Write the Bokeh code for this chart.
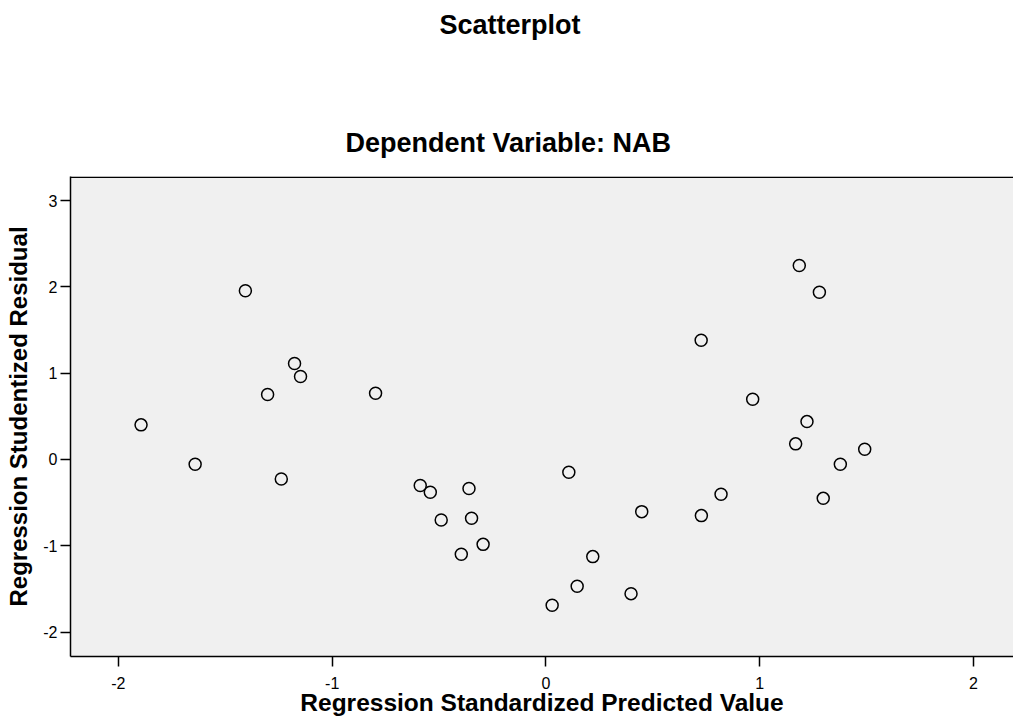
from bokeh.plotting import figure
from bokeh.models import Range1d, FixedTicker, Title, ColumnDataSource, Span
from bokeh.embed import file_html
from bokeh.resources import INLINE

predicted = [-1.894, -1.641, -1.406, -1.302, -1.238, -1.176, -1.148, -0.797,
             -0.588, -0.541, -0.490, -0.360, -0.348, -0.294, -0.396,
             0.107, 0.029, 0.146, 0.219, 0.398, 0.448,
             0.726, 0.727, 0.819, 0.967, 1.185, 1.279, 1.221, 1.168, 1.491, 1.377, 1.297]
residual = [0.401, -0.056, 1.954, 0.752, -0.225, 1.111, 0.961, 0.767,
            -0.302, -0.380, -0.700, -0.337, -0.681, -0.983, -1.098,
            -0.148, -1.689, -1.469, -1.125, -1.554, -0.604,
            1.381, -0.650, -0.403, 0.698, 2.247, 1.937, 0.439, 0.181, 0.118, -0.056, -0.450]
x_ticks = [-2, -1, 0, 1, 2]
y_ticks = [-2, -1, 0, 1, 2, 3]

FONT = "Liberation Sans"
Y_END = 3.278

src = ColumnDataSource(dict(x=predicted, y=residual))

p = figure(width=1013, height=722, output_backend="svg", toolbar_location=None,
           x_range=Range1d(-2.224, 2.187), y_range=Range1d(-2.282, Y_END),
           min_border_left=70, min_border_right=0, min_border_top=176, min_border_bottom=66)

p.background_fill_color = "#f0f0f0"
p.border_fill_color = "white"
p.outline_line_color = None
p.xgrid.visible = False
p.ygrid.visible = False

p.add_layout(Span(location=Y_END - 0.008, dimension="width", line_color="black", line_width=1.5))

p.scatter("x", "y", source=src, size=12, fill_color=None, line_color="black", line_width=1.5)

for ax, ticks in ((p.xaxis[0], x_ticks), (p.yaxis[0], y_ticks)):
    ax.ticker = FixedTicker(ticks=ticks)
    ax.major_label_overrides = {t: str(t) for t in ticks}
    ax.minor_tick_line_color = None
    ax.major_tick_in = 0
    ax.major_tick_out = 10
    ax.major_tick_line_color = "black"
    ax.major_tick_line_width = 1.5
    ax.axis_line_color = "black"
    ax.axis_line_width = 1.5
    ax.major_label_text_font = FONT
    ax.major_label_text_font_size = "16px"
    ax.major_label_text_color = "black"
    ax.axis_label_text_font = FONT
    ax.axis_label_text_font_style = "bold"
    ax.axis_label_text_color = "black"

p.xaxis.axis_label = "Regression Standardized Predicted Value"
p.yaxis.axis_label = "Regression Studentized Residual"
p.xaxis.axis_label_text_font_size = "24.5px"
p.yaxis.axis_label_text_font_size = "24px"
p.xaxis.major_label_standoff = 10
p.yaxis.major_label_standoff = 3
p.xaxis.axis_label_standoff = -3
p.yaxis.axis_label_standoff = 8

p.add_layout(Title(text="Dependent Variable: NAB", align="left", text_font=FONT,
                   text_font_size="27px", text_font_style="bold", text_color="black",
                   standoff=37, offset=275), "above")
p.add_layout(Title(text="Scatterplot", align="left", text_font=FONT,
                   text_font_size="27px", text_font_style="bold", text_color="black",
                   standoff=0, offset=369,
                   padding=dict(left=0, right=0, top=7, bottom=68)), "above")

open("out.html", "w").write(file_html(p, INLINE))
